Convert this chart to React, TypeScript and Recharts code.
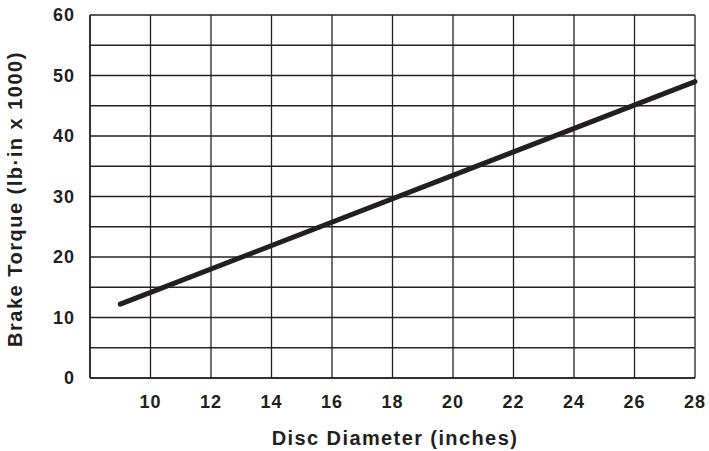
import React from 'react';
import { LineChart, Line, XAxis, YAxis, CartesianGrid, Label } from 'recharts';

const diameters = [9, 28];
const torques = [12.2, 49];
const xTicks = [8, 10, 12, 14, 16, 18, 20, 22, 24, 26, 28];
const yTicks = [0, 5, 10, 15, 20, 25, 30, 35, 40, 45, 50, 55, 60];

const data = diameters.map((d, i) => ({ d, t: torques[i] }));

const FONT = '"Liberation Sans", Arial, Helvetica, sans-serif';
const INK = '#231f20';

export default function App() {
  return (
    <div style={{ position: 'absolute', left: 0, top: 0, background: '#fff' }}>
      <LineChart width={709} height={451} data={data} margin={{ top: 15, right: 14, left: 0, bottom: 0 }}>
        <CartesianGrid stroke="#222" strokeWidth={1.3} strokeOpacity={1} />
        <XAxis
          dataKey="d"
          type="number"
          domain={[8, 28]}
          ticks={xTicks}
          interval={0}
          tickFormatter={(v: number) => (v === 8 ? '' : String(v))}
          height={73}
          tickSize={0}
          tickMargin={17}
          axisLine={{ stroke: INK, strokeWidth: 1.5 }}
          tick={{ fill: INK, fontSize: 18, fontWeight: 700, fontFamily: FONT, letterSpacing: 1 }}
        >
          <Label
            content={() => (
              <text x={395} y={445} textAnchor="middle" fill={INK} fontSize={20} fontWeight={700} fontFamily={FONT} letterSpacing={1.4}>
                Disc Diameter (inches)
              </text>
            )}
          />
        </XAxis>
        <YAxis
          type="number"
          domain={[0, 60]}
          ticks={yTicks}
          interval={0}
          tickFormatter={(v: number) => (v % 10 === 0 ? String(v) : '')}
          width={90}
          tickSize={0}
          tickMargin={15}
          axisLine={{ stroke: INK, strokeWidth: 1.5 }}
          tick={{ fill: INK, fontSize: 18, fontWeight: 700, fontFamily: FONT, letterSpacing: 1 }}
        >
          <Label
            content={() => (
              <text
                x={0}
                y={0}
                transform="translate(22,199) rotate(-90)"
                textAnchor="middle"
                fill={INK}
                fontSize={20}
                fontWeight={700}
                fontFamily={FONT}
                letterSpacing={1.5}
              >
                Brake Torque (lb·in x 1000)
              </text>
            )}
          />
        </YAxis>
        <Line
          dataKey="t"
          stroke={INK}
          strokeWidth={5}
          strokeLinecap="round"
          dot={false}
          activeDot={false}
          isAnimationActive={false}
        />
      </LineChart>
    </div>
  );
}
